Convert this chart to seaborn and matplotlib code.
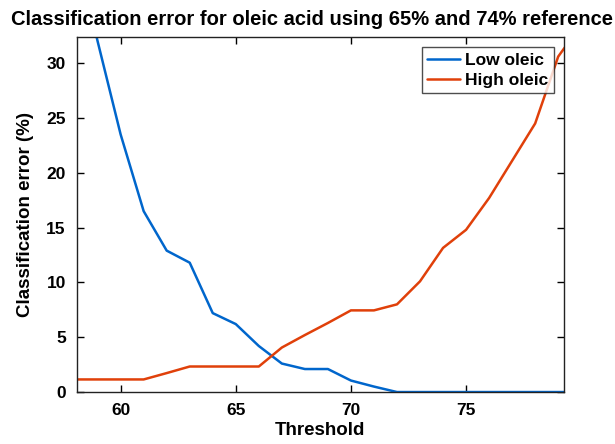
import numpy as np
import pandas as pd
import seaborn as sns
import matplotlib.pyplot as plt

# Classification error (%) at each oleic acid threshold
thresholds = [58, 59, 60, 61, 62, 63, 64, 65, 66, 67, 68, 69, 70, 71, 72, 73, 74, 75, 76, 77, 78, 79, 80]
low_oleic = [41.0, 32.0, 23.5, 16.5, 12.9, 11.8, 7.2, 6.2, 4.2, 2.6, 2.1, 2.1, 1.05, 0.5,
             0.0, 0.0, 0.0, 0.0, 0.0, 0.0, 0.0, 0.0, 0.0]
high_oleic = [1.15, 1.15, 1.15, 1.15, 1.73, 2.33, 2.33, 2.33, 2.33, 4.06, 5.2, 6.3, 7.45, 7.45,
              8.0, 10.1, 13.15, 14.8, 17.7, 21.1, 24.5, 30.6, 33.5]

series_names = ["Low oleic", "High oleic"]
series_colors = ["#0066CC", "#E0400A"]

df = pd.DataFrame({
    "Threshold": thresholds * 2,
    "Error": low_oleic + high_oleic,
    "Group": [series_names[0]] * len(thresholds) + [series_names[1]] * len(thresholds),
})

sns.set_style("white")
plt.rcParams["font.family"] = ["Liberation Sans", "DejaVu Sans"]
plt.rcParams["font.weight"] = "bold"
plt.rcParams["text.color"] = "black"
plt.rcParams["axes.labelcolor"] = "black"
plt.rcParams["xtick.color"] = "black"
plt.rcParams["ytick.color"] = "black"

fig = plt.figure(figsize=(6.15, 4.44), dpi=100)
ax = fig.add_axes([0.125, 0.117, 0.792, 0.8])

sns.lineplot(data=df, x="Threshold", y="Error", hue="Group", palette=series_colors,
             hue_order=series_names, linewidth=1.8, ax=ax)

ax.set_xlim(58.1, 79.25)
ax.set_ylim(0, 32.4)
ax.set_xticks([60, 65, 70, 75])
ax.set_yticks([0, 5, 10, 15, 20, 25, 30])
ax.tick_params(direction="in", length=5, width=1, labelsize=12.5, top=True, right=True,
               bottom=True, left=True, pad=8, colors="black")
for lab in ax.get_xticklabels() + ax.get_yticklabels():
    lab.set_fontweight("bold")
for sp in ax.spines.values():
    sp.set_visible(True)
    sp.set_color("#222222")
    sp.set_linewidth(1.0)

ax.set_xlabel("Threshold", fontsize=13.5, fontweight="bold", labelpad=3)
ax.set_ylabel("Classification error (%)", fontsize=13.5, fontweight="bold", labelpad=9)
fig.suptitle("Classification error for oleic acid using 65% and 74% reference",
             fontsize=14.5, fontweight="bold", x=0.508, y=0.978)

leg = ax.legend(loc="upper right", fontsize=12.5, frameon=True, fancybox=False,
                edgecolor="#222222", handlelength=1.9, handletextpad=0.3,
                borderpad=0.3, labelspacing=0.3, borderaxespad=0.6)
leg.get_frame().set_linewidth(1.0)
for t in leg.get_texts():
    t.set_fontweight("bold")

fig.savefig("out.png", dpi=100)
